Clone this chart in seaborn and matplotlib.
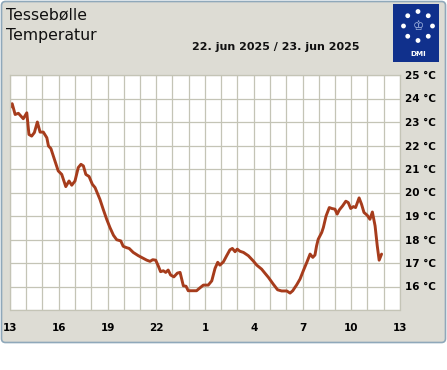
import numpy as np
import pandas as pd
import matplotlib
matplotlib.use("Agg")
import matplotlib.pyplot as plt
import matplotlib.dates as mdates
import matplotlib.transforms as mtransforms
from matplotlib.patches import FancyBboxPatch, Rectangle, Circle
import seaborn as sns

# ---------------- data ----------------
station = "Tessebølle"
quantity = "Temperatur"
date_label = "22. jun 2025 / 23. jun 2025"
start_time = "2025-06-22 13:00"
end_time = "2025-06-23 13:00"

minutes_after_start = [
    0, 8, 19, 31, 49, 62, 70, 80, 90, 101,
    111, 123, 136, 142, 151, 166, 178, 191, 206, 218,
    228, 240, 252, 262, 271, 280, 292, 304, 314, 332,
    344, 357, 369, 382, 394, 409, 418, 431, 440, 455,
    474, 492, 505, 517, 527, 538, 548, 556, 566, 575,
    584, 593, 605, 618, 628, 640, 650, 658, 689, 699,
    714, 732, 745, 757, 767, 775, 788, 800, 812, 821,
    831, 839, 849, 862, 880, 898, 911, 929, 941, 954,
    972, 988, 1003, 1022, 1034, 1044, 1052, 1058, 1071, 1083,
    1096, 1108, 1118, 1126, 1132, 1138, 1151, 1157, 1167, 1179,
    1188, 1200, 1208, 1216, 1228, 1240, 1249, 1258, 1268, 1276,
    1289, 1298, 1307, 1319, 1329, 1338, 1348, 1356, 1363, 1372,
]
temperature = [
    23.61, 23.78, 23.32, 23.37, 23.14, 23.39, 22.47, 22.40, 22.55, 23.00,
    22.57, 22.57, 22.33, 21.98, 21.87, 21.34, 20.92, 20.77, 20.25, 20.49,
    20.31, 20.49, 21.06, 21.20, 21.13, 20.77, 20.68, 20.35, 20.21, 19.71,
    19.29, 18.86, 18.51, 18.18, 17.99, 17.94, 17.71, 17.65, 17.62, 17.45,
    17.31, 17.20, 17.12, 17.07, 17.14, 17.12, 16.86, 16.63, 16.67, 16.60,
    16.70, 16.49, 16.41, 16.57, 16.60, 16.03, 16.01, 15.82, 15.82, 15.92,
    16.06, 16.06, 16.24, 16.77, 17.03, 16.91, 17.05, 17.31, 17.56, 17.62,
    17.48, 17.59, 17.50, 17.45, 17.31, 17.09, 16.91, 16.74, 16.57, 16.39,
    16.10, 15.86, 15.81, 15.81, 15.72, 15.82, 15.96, 16.06, 16.32, 16.67,
    17.03, 17.38, 17.24, 17.34, 17.73, 18.01, 18.30, 18.51, 19.00, 19.36,
    19.32, 19.29, 19.08, 19.26, 19.43, 19.63, 19.57, 19.32, 19.40, 19.36,
    19.77, 19.50, 19.15, 19.03, 18.86, 19.17, 18.58, 17.73, 17.12, 17.38,
]
y_ticks = [15, 16, 17, 18, 19, 20, 21, 22, 23, 24, 25]
y_tick_labels = ["", "16 °C", "17 °C", "18 °C", "19 °C", "20 °C", "21 °C",
                 "22 °C", "23 °C", "24 °C", "25 °C"]

t0 = pd.Timestamp(start_time)
df = pd.DataFrame({
    "time": [t0 + pd.Timedelta(minutes=m) for m in minutes_after_start],
    "temp": temperature,
})

# ---------------- style ----------------
W, H = 447, 370
BG = "#dddcd4"
BORDER = "#8fa8ba"
GRID = "#c4c4b6"
LINE = "#a63c1c"

sns.set_style("white")
plt.rcParams["font.family"] = ["DejaVu Sans"]

fig = plt.figure(figsize=(W / 100, H / 100), dpi=100)
fig.patch.set_facecolor("white")

ident = mtransforms.IdentityTransform()
frame = FancyBboxPatch((1.5, 27.5), 444, 341,
                       boxstyle="round,pad=0,rounding_size=4",
                       transform=ident, fc=BG, ec=BORDER, lw=1.2, zorder=-5)
fig.add_artist(frame)

# main axes (pixel box: x 10..400, y 75..310 from top)
ax = fig.add_axes([10 / W, (H - 310) / H, 390 / W, 235 / H])
ax.set_facecolor("white")
sns.lineplot(data=df, x="time", y="temp", ax=ax, color=LINE, lw=2.1,
             solid_joinstyle="round", solid_capstyle="round")

ax.set_xlim(pd.Timestamp(start_time), pd.Timestamp(end_time))
ax.set_ylim(15, 25)
ax.set_xlabel("")
ax.set_ylabel("")

ax.xaxis.set_major_locator(mdates.HourLocator(byhour=range(1, 24, 3)))
ax.xaxis.set_minor_locator(mdates.HourLocator())
ax.xaxis.set_major_formatter(mdates.DateFormatter("%-H"))
ax.set_yticks(y_ticks)
ax.set_yticklabels(y_tick_labels)
ax.yaxis.tick_right()

ax.set_axisbelow(True)
ax.grid(True, which="both", axis="x", color=GRID, lw=0.9)
ax.grid(True, which="major", axis="y", color=GRID, lw=0.9)

for s in ["left", "right", "top"]:
    ax.spines[s].set_color(GRID)
    ax.spines[s].set_linewidth(0.9)
ax.spines["bottom"].set_position(("outward", 3))
ax.spines["bottom"].set_visible(False)
ax.axhline(15, color=GRID, lw=0.9, clip_on=False, zorder=0.5)

ax.tick_params(axis="x", which="major", length=3.6, width=0.8, color="#b9b9ad",
               pad=3, labelsize=7.5, labelcolor="black")
ax.tick_params(axis="x", which="minor", length=0)
ax.tick_params(axis="y", length=0, pad=3.6, labelsize=7.5, labelcolor="black")
for lab in ax.get_xticklabels() + ax.get_yticklabels():
    lab.set_fontweight("bold")

# titles (pixel positions from top-left)
def px(x, y):
    return x / W, 1 - y / H

fig.text(*px(6, 20), station, fontsize=11.3, color="#111111", va="baseline", ha="left")
fig.text(*px(6, 40), quantity, fontsize=11.3, color="#111111", va="baseline", ha="left")
fig.text(*px(276, 50), date_label, fontsize=8, fontweight="bold", color="#111111",
         va="baseline", ha="center")

# DMI logo
lax = fig.add_axes([393 / W, (H - 62) / H, 46 / W, 58 / H])
lax.set_xlim(0, 46)
lax.set_ylim(58, 0)
lax.axis("off")
lax.add_patch(Rectangle((0, 0), 46, 58, fc="#10308c", ec="none"))
cx, cy, r = 25, 22, 14.5
for ang in np.arange(0, 360, 45):
    a = np.deg2rad(ang)
    lax.add_patch(Circle((cx + r * np.cos(a), cy + r * np.sin(a)), 2.4,
                         fc="white", ec="none"))
lax.text(cx, cy + 0.5, "♔", fontsize=9, color="#a9bbe3", ha="center", va="center")
lax.text(cx, 50, "DMI", fontsize=5.2, fontweight="bold", color="white",
         ha="center", va="center")

fig.savefig("out.png", dpi=100)
